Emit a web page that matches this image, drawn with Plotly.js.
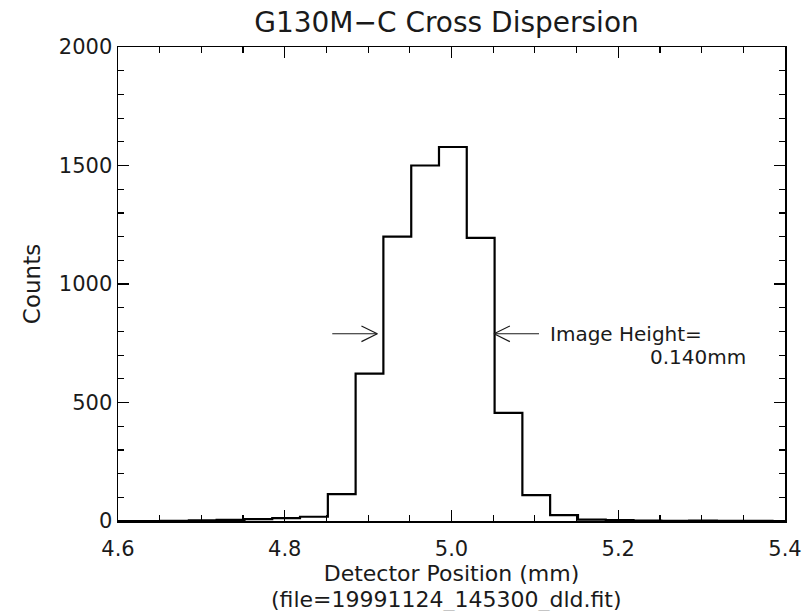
<!DOCTYPE html>
<html>
<head>
<meta charset="utf-8">
<script src="https://cdn.plot.ly/plotly-3.0.1.min.js"></script>
<style>
html,body{margin:0;padding:0;background:#fff;}
#chart{width:803px;height:611px;}
</style>
</head>
<body>
<div id="chart"></div>
<script>
// Bin edges (mm) and counts per bin
var binEdges = [4.5850, 4.6183, 4.6517, 4.6850, 4.7183, 4.7517, 4.7850, 4.8183, 4.8517,
                4.8850, 4.9183, 4.9517, 4.9850, 5.0183, 5.0517, 5.0850, 5.1183, 5.1517,
                5.1850, 5.2183, 5.2517, 5.2850, 5.3183, 5.3517, 5.3850, 5.4183];
var binCounts = [0, 0, 1, 3, 5, 8, 12, 18, 113, 622, 1200, 1500, 1578, 1195, 456, 109, 25,
                 6, 4, 2, 1, 2, 1, 1, 0];

// Half-maximum markers
var arrowLevel = 790;
var fwhmLeft = 4.911;
var fwhmRight = 5.051;
var arrowLength = 0.054;
var labelLine1 = "Image Height=";
var labelLine2 = "0.140mm";

var titleText = "G130M\u2212C Cross Dispersion";
var xTitleLine1 = "Detector Position (mm)";
var xTitleLine2 = "(file=19991124_145300_dld.fit)";
var yTitle = "Counts";

var xTickVals = [4.6, 4.8, 5.0, 5.2, 5.4];
var xTickText = ["4.6", "4.8", "5.0", "5.2", "5.4"];
var yTickVals = [0, 500, 1000, 1500, 2000];

var stepX = binEdges.slice();
var stepY = binCounts.concat([binCounts[binCounts.length - 1]]);

var FONT = "DejaVu Sans";
var INK = "#1a1a1a";

// arrow head size (style)
var headDx = 0.019, headDy = 33;

function arrowTrace(tipX, dir) {
  var tailX = tipX - dir * arrowLength;
  var hx = tipX - dir * headDx;
  return {
    type: "scatter", mode: "lines", hoverinfo: "skip", showlegend: false,
    x: [tailX, tipX, null, hx, tipX, hx],
    y: [arrowLevel, arrowLevel, null, arrowLevel + headDy, arrowLevel, arrowLevel - headDy],
    line: {color: INK, width: 1.2}
  };
}

var traces = [
  {
    type: "scatter", mode: "lines", x: stepX, y: stepY,
    line: {shape: "hv", color: "#000", width: 2.2},
    showlegend: false, hoverinfo: "skip"
  },
  arrowTrace(fwhmLeft, 1),
  arrowTrace(fwhmRight, -1)
];

var axisCommon = {
  showgrid: false, zeroline: false, showline: true, linecolor: "#000", linewidth: 1.5,
  mirror: "ticks", ticks: "inside", tickcolor: "#000", tickwidth: 1.2,
  tickfont: {family: FONT, size: 21, color: INK}
};

var layout = {
  width: 803, height: 611,
  margin: {l: 118, r: 18, t: 47, b: 90},
  paper_bgcolor: "#fff", plot_bgcolor: "#fff",
  title: {text: titleText, font: {family: FONT, size: 28, color: INK},
          x: 0.4925, xanchor: "center", xref: "paper",
          y: 1 - 22 / 611, yanchor: "middle", yref: "container"},
  xaxis: Object.assign({}, axisCommon, {
    range: [4.6, 5.4], tickvals: xTickVals, ticktext: xTickText, ticklen: 11,
    ticklabelstandoff: 8,
    minor: {dtick: 0.05, tick0: 4.6, ticks: "inside", ticklen: 6, tickcolor: "#000", tickwidth: 1.2, showgrid: false},
    title: {text: xTitleLine1, font: {family: FONT, size: 22, color: INK}, standoff: 6}
  }),
  yaxis: Object.assign({}, axisCommon, {
    range: [0, 2000], tickvals: yTickVals, ticklen: 11,
    minor: {dtick: 100, tick0: 0, ticks: "inside", ticklen: 6, tickcolor: "#000", tickwidth: 1.2, showgrid: false},
    title: {text: yTitle, font: {family: FONT, size: 23, color: INK}, standoff: 12}
  }),
  annotations: [
    {x: fwhmRight + arrowLength + 0.012, y: 790, xref: "x", yref: "y",
     text: labelLine1, showarrow: false, xanchor: "left", yanchor: "middle",
     borderpad: 0, font: {family: FONT, size: 20, color: INK}},
    {x: 5.354, y: 694, xref: "x", yref: "y",
     text: labelLine2, showarrow: false, xanchor: "right", yanchor: "middle",
     borderpad: 0, font: {family: FONT, size: 20, color: INK}},
    {x: 0.4925, y: -(600 - 521) / 474, xref: "paper", yref: "paper",
     text: xTitleLine2, showarrow: false, xanchor: "center", yanchor: "middle",
     font: {family: FONT, size: 22, color: INK}}
  ]
};

Plotly.newPlot("chart", traces, layout, {staticPlot: true, displayModeBar: false});
</script>
</body>
</html>
